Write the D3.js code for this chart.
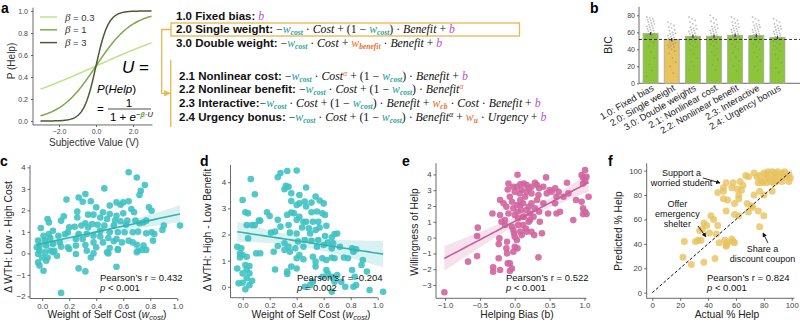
<!DOCTYPE html>
<html>
<head>
<meta charset="utf-8">
<script src="https://cdn.jsdelivr.net/npm/d3@7"></script>
<style>
  body { margin: 0; background: #fff; }
  svg text { font-family: "Liberation Sans", Arial, sans-serif; white-space: pre; }
</style>
</head>
<body>
<svg id="fig" width="800" height="322"></svg>
<script>
// ---------- data ----------
const betas = [0.3, 1, 3];
const betaColors = ["#bde383", "#7fa84e", "#4d5a34"];

const models = ["1.0: Fixed bias", "2.0: Single weight", "3.0: Double weights", "2.1: Nonlinear cost",
  "2.2: Nonlinear benefit", "2.3: Interactive", "2.4: Urgency bonus"];
const bicMean = [58.5, 51.4, 55.3, 55.4, 56.5, 56.1, 53.9];
const bicBest = 51.6;
const bicSubjects = [
  [78, 77, 76, 75, 74, 73, 72, 71, 70, 69, 68, 67, 66, 65, 64, 63, 62, 61, 60, 59, 58, 57, 56, 55, 54, 52, 50, 48, 44, 37, 30, 22, 15, 8],
  [72, 70, 68, 66, 65, 63, 62, 60, 59, 58, 57, 56, 55, 54, 53, 52, 51, 50, 49, 48, 47, 46, 45, 44, 43, 42, 40, 38, 35, 30, 25, 20, 12],
  [78, 76, 74, 72, 70, 68, 66, 65, 64, 63, 62, 61, 60, 59, 58, 57, 56, 55, 54, 53, 52, 51, 50, 49, 48, 46, 44, 42, 39, 35, 30, 25, 20, 16],
  [80, 77, 75, 73, 71, 69, 67, 66, 65, 64, 63, 62, 61, 60, 59, 58, 57, 56, 55, 54, 53, 52, 51, 50, 48, 46, 44, 41, 37, 33, 28, 22, 16],
  [78, 76, 74, 72, 71, 70, 68, 67, 66, 65, 64, 63, 62, 61, 60, 59, 58, 57, 56, 55, 54, 53, 52, 50, 48, 46, 43, 40, 36, 31, 26, 20, 15],
  [78, 76, 74, 72, 70, 69, 68, 67, 66, 65, 64, 63, 62, 61, 60, 59, 58, 57, 56, 55, 54, 53, 52, 50, 48, 46, 43, 40, 36, 31, 26, 20, 15],
  [76, 74, 72, 70, 68, 67, 66, 65, 64, 63, 62, 61, 60, 59, 58, 57, 56, 55, 54, 53, 52, 51, 50, 48, 46, 44, 41, 38, 34, 29, 24, 18, 13]
];

const cW = [0.64,0.70,0.76,0.46,0.73,0.72,0.32,0.27,0.18,0.30,0.36,0.55,0.60,0.64,0.58,0.50,0.40,0.79,0.81,0.66,0.68,0.26,0.45,0.34,0.38,0.50,0.55,0.60,0.16,0.26,0.43,0.48,0.54,0.58,0.63,0.69,0.75,0.77,0.72,0.62,0.14,0.04,0.05,0.32,0.37,0.41,0.46,0.53,0.34,0.29,0.24,0.19,0.20,-0.01,0.08,0.43,0.50,0.56,0.61,0.67,0.71,0.81,0.89,0.90,1.02,0.77,0.83,0.27,0.33,0.38,0.43,0.49,0.55,0.25,0.30,0.17,0.12,0.05,0.01,-0.03,0.02,0.06,-0.02,0.03,-0.04,0.08,0.13,0.38,0.45,0.53,0.59,0.64,0.67,0.82,0.25,0.32,0.19,0.14,0.75,0.70,0.50,0.20,-0.02,0.02,0.06,-0.03,0.08,0.38,0.48,0.49,0.56,0.56,0.71,0.74,0.77,0.33,0.70,0.04,0.00,0.11,-0.03,0.03,-0.02,0.01,0.27,0.32,0.55,0.14,0.09,0.36,0.40,0.25];
const cDelta = [3.77,3.53,3.18,3.02,2.91,2.71,2.76,2.60,2.50,2.40,2.42,2.37,2.37,2.42,2.26,2.22,2.14,2.14,1.98,2.06,1.91,1.94,1.91,1.80,1.80,1.83,1.75,1.86,1.72,1.67,1.67,1.60,1.52,1.49,1.52,1.52,1.44,1.52,1.40,1.33,1.52,1.60,1.44,1.40,1.36,1.33,1.29,1.29,1.21,1.29,1.24,0.98,1.21,1.18,1.05,1.05,0.98,0.98,0.98,0.98,1.01,0.98,1.09,1.29,1.29,0.93,0.90,0.90,0.90,0.82,0.78,0.71,0.67,0.67,0.67,0.90,0.82,0.90,0.82,0.59,0.59,0.71,0.36,0.36,0.28,0.43,0.51,0.51,0.51,0.56,0.51,0.59,0.51,0.59,0.36,0.39,0.28,0.31,0.36,0.40,0.25,0.20,0.12,0.05,0.12,-0.03,0.05,0.00,0.05,0.00,0.20,0.16,0.12,0.16,0.16,0.12,0.05,-0.19,-0.19,-0.11,-0.42,-0.34,-0.57,-0.81,-0.70,-0.84,-0.62,-1.84,0.12,-0.19,0.28,-0.03];

const dW = [0.33,0.28,0.40,0.26,0.06,0.32,0.34,0.47,0.31,0.09,0.36,0.42,0.54,0.00,0.57,0.36,0.46,0.51,0.42,0.60,0.40,0.47,0.02,0.04,0.18,0.36,0.38,0.33,0.51,0.55,0.59,0.61,0.42,0.20,0.26,0.40,0.45,0.47,0.52,0.56,0.12,0.03,0.07,0.09,0.13,0.28,0.34,0.44,0.49,0.54,0.57,0.62,0.21,0.24,0.35,0.40,0.50,0.68,0.70,0.66,0.61,0.04,0.26,0.31,0.34,0.41,0.39,0.45,0.46,0.51,0.56,0.55,0.60,0.63,0.67,0.66,0.72,0.81,0.84,0.82,-0.04,-0.01,-0.02,0.00,-0.02,0.03,0.10,0.13,0.23,0.31,0.35,0.42,0.40,0.45,0.52,0.54,0.59,0.62,0.66,0.68,0.75,0.78,0.89,0.88,-0.04,0.02,0.05,0.03,0.00,0.05,0.03,0.07,0.00,0.02,0.05,-0.03,0.24,0.33,0.36,0.40,0.54,0.62,0.63,0.59,0.66,0.70,0.68,0.73,0.76,0.81,0.83,0.84,0.82,0.92,0.94,1.04,0.52,0.46,0.66,0.33,0.50];
const dDelta = [4.43,4.35,4.45,4.19,4.12,3.86,3.83,3.80,3.73,3.54,3.58,3.51,3.45,3.32,3.30,3.28,3.26,3.22,3.19,3.19,3.13,3.07,2.85,2.81,2.85,2.84,2.81,2.75,2.85,2.88,2.81,2.75,2.68,2.71,2.56,2.56,2.49,2.49,2.49,2.49,2.53,2.36,2.36,2.36,2.53,2.30,2.36,2.27,2.24,2.17,2.27,2.33,2.07,2.11,2.07,2.04,2.04,2.02,2.04,1.89,1.94,1.85,1.56,1.66,1.53,1.73,1.47,1.53,1.79,1.76,1.79,1.53,1.60,1.69,1.66,1.47,1.53,1.47,1.43,1.34,1.53,1.47,1.28,1.21,1.12,1.15,1.28,1.28,1.34,1.41,1.34,1.21,1.09,1.05,1.15,0.96,1.09,1.02,1.12,1.09,1.12,1.09,1.02,0.83,0.70,0.83,0.79,0.66,0.51,0.51,0.32,0.23,0.15,-0.10,0.06,0.13,0.66,0.58,0.77,0.70,0.77,0.64,0.51,0.38,0.38,0.45,0.19,0.19,0.00,0.64,0.38,0.06,0.00,0.58,-0.13,-0.19,0.19,0.00,-0.19,0.49,0.06];

const eBias = [-1.01,-0.67,-0.53,-0.54,-0.54,-0.31,-0.31,-0.32,-0.22,-0.23,-0.23,-0.21,-0.14,-0.11,-0.12,-0.11,-0.10,-0.07,-0.07,-0.04,-0.02,0.00,0.04,0.03,0.00,-0.01,0.08,-0.09,-0.10,0.04,0.08,0.10,0.13,0.17,0.20,0.24,0.29,0.32,0.35,0.41,0.45,0.24,-0.07,-0.04,-0.12,-0.09,-0.14,-0.02,0.03,0.00,0.05,0.08,0.09,0.12,0.13,0.12,0.16,0.17,0.20,0.15,0.20,0.22,0.24,0.27,0.29,0.32,0.34,0.35,0.36,0.39,0.28,0.34,0.41,0.46,0.48,0.50,0.53,0.58,0.60,0.60,0.65,0.75,0.70,0.77,0.84,0.88,0.96,0.98,1.01,1.03,1.01,0.98,0.96,0.98,1.01,1.03,1.06,0.98,-0.21,-0.16,-0.04,0.10,-0.02,0.05,0.00,0.03,-0.02,0.24,0.58,0.63,0.22,-0.21,-0.19,0.07,0.17,0.12,0.04,0.17,0.08];
const eWill = [-3.46,-1.52,0.63,0.10,-1.17,-1.88,-2.16,1.53,-0.05,-0.41,-1.31,-2.05,0.80,-0.26,-0.68,-1.00,-1.63,-2.11,-1.63,-1.95,-0.89,-0.58,-0.68,-0.15,0.06,0.27,0.38,3.43,3.05,3.98,3.37,3.01,3.43,3.33,3.12,2.80,3.47,3.33,3.12,3.22,3.81,3.22,2.59,2.27,1.95,1.53,1.11,1.85,2.06,1.43,1.22,2.38,1.74,2.17,1.32,0.80,0.58,0.37,1.00,2.59,1.95,1.53,2.17,1.32,1.85,2.38,2.69,1.64,1.00,0.27,0.16,-1.25,2.17,2.80,1.53,3.01,2.90,2.17,1.53,2.59,1.64,3.47,2.59,2.80,1.11,2.38,3.96,3.81,4.27,3.85,3.58,3.43,2.27,1.85,1.64,1.49,2.59,1.49,2.38,2.17,0.69,0.16,0.48,0.80,2.90,3.22,3.22,0.37,3.12,2.90,1.11,1.43,1.00,2.80,2.90,1.32,1.64,1.74,2.06];

const fActual = [73,67,69,75,77,80,82,83,86,88,90,93,95,98,99,96,93,91,88,86,83,81,78,76,79,82,85,87,89,93,98,58,53,63,65,64,61,57,51,47,51,51,54,59,62,62,68,71,73,77,80,86,72,76,69,53,59,62,80,42,44,37,39,47,36,34,46,41,35,33,31,23,52,54,57,58,59,53,48,77,22,28,37,45,53];
const fPred = [98,96,95,95,96,98,97,99,99,98,99,98,99,97,94,95,94,95,94,95,94,93,91,90,90,90,91,90,91,91,91,90,90,91,88,84,85,86,86,82,83,77,76,73,80,77,73,71,80,83,80,83,70,67,66,67,64,63,63,63,60,57,55,55,52,51,48,49,43,43,42,42,43,41,44,42,41,39,41,54,29,23,25,28,38];

const stats = {
  c: ["Pearson\u2019s r = 0.432", "p < 0.001"],
  d: ["Pearson\u2019s r = -0.204", "p = 0.002"],
  e: ["Pearson\u2019s r = 0.522", "p < 0.001"],
  f: ["Pearson\u2019s r = 0.824", "p < 0.001"]
};

// ---------- helpers ----------
const svg = d3.select("#fig");
const SANS = "'Liberation Sans', Arial, sans-serif";
const SERIF = "'Liberation Serif', 'Times New Roman', serif";
const TEAL = "#1e9e9e", ORANGE = "#f26b2a", MAG = "#c04fd0";
const AXC = "#444";

function styleAxis(g, fs) {
  g.select(".domain").remove();
  g.selectAll(".tick line").attr("stroke", AXC).attr("stroke-width", 0.8);
  g.selectAll(".tick text").attr("fill", AXC).attr("font-size", fs).attr("font-family", SANS);
}
function panelLabel(t, x, y) {
  svg.append("text").attr("x", x).attr("y", y).text(t)
    .attr("font-weight", "bold").attr("font-size", 14).attr("fill", "#000");
}

// ---------- panel a ----------
panelLabel("a", 1, 13);
const ax = d3.scaleLinear().domain([-3, 3]).range([40.5, 151.5]);
const ay = d3.scaleLinear().domain([0, 1]).range([121, 11]);
const ga = svg.append("g");
ga.append("line").attr("x1", 33).attr("x2", 33).attr("y1", ay(-0.036)).attr("y2", ay(1.03)).attr("stroke", AXC).attr("stroke-width", 0.8);
ga.append("line").attr("x1", 33).attr("x2", ax(3.05)).attr("y1", ay(-0.036)).attr("y2", ay(-0.036)).attr("stroke", AXC).attr("stroke-width", 0.8);
ga.append("g").attr("transform", "translate(33,0)")
  .call(d3.axisLeft(ay).tickValues([0, 0.2, 0.4, 0.6, 0.8, 1]).tickFormat(d3.format(".1f")).tickSize(2).tickPadding(3))
  .call(g => styleAxis(g, 7));
ga.append("g").attr("transform", `translate(0,${ay(-0.036)})`)
  .call(d3.axisBottom(ax).tickValues([-2, 0, 2]).tickSize(2).tickPadding(2))
  .call(g => styleAxis(g, 7));
const vGrid = d3.range(-3, 3.0001, 0.05);
betas.forEach((b, i) => {
  ga.append("path")
    .datum(vGrid.map(v => [v, 1 / (1 + Math.exp(-b * v))]))
    .attr("fill", "none").attr("stroke", betaColors[i]).attr("stroke-width", 1.5)
    .attr("d", d3.line().x(d => ax(d[0])).y(d => ay(d[1])));
  const ly = 17 + i * 12.8;
  ga.append("line").attr("x1", 40).attr("x2", 57).attr("y1", ly).attr("y2", ly)
    .attr("stroke", betaColors[i]).attr("stroke-width", 1.5);
  const t = ga.append("text").attr("x", 65).attr("y", ly + 3.5).attr("font-size", 9.5).attr("fill", "#333");
  t.append("tspan").text("\u03b2").attr("font-style", "italic").attr("font-family", SERIF).attr("font-size", 11);
  t.append("tspan").text(" = " + b);
});
ga.append("text").attr("transform", "translate(15,61) rotate(-90)").attr("text-anchor", "middle")
  .attr("font-size", 10).attr("fill", "#333").text("P (Help)");
ga.append("text").attr("x", 94).attr("y", 146).attr("text-anchor", "middle")
  .attr("font-size", 10).attr("fill", "#333").text("Subjective Value (V)");

// logistic formula
const fx = ga.append("g").attr("font-family", SERIF);
fx.append("text").attr("x", 97).attr("y", 93).attr("font-size", 11.5).attr("font-family", SERIF)
  .html('<tspan font-style="italic">P</tspan>(<tspan font-style="italic">Help</tspan>)');
fx.append("text").attr("x", 97).attr("y", 113).attr("font-size", 11.5).attr("font-family", SERIF).text("=");
fx.append("text").attr("x", 129).attr("y", 106.5).attr("font-size", 11.5).attr("font-family", SERIF).attr("text-anchor", "middle").text("1");
fx.append("line").attr("x1", 108).attr("x2", 151).attr("y1", 109).attr("y2", 109).attr("stroke", "#222").attr("stroke-width", 0.8);
fx.append("text").attr("x", 110).attr("y", 121).attr("font-size", 11.5).attr("font-family", SERIF)
  .html('1 + <tspan font-style="italic">e</tspan><tspan dy="-4" font-size="7.5">\u2212</tspan><tspan font-size="7.5" font-style="italic" font-weight="bold" fill="#5fa83a">\u03b2</tspan><tspan font-size="7.5">\u00b7</tspan><tspan font-size="7.5" font-style="italic">U</tspan>');

svg.append("text").attr("x", 122).attr("y", 73).attr("font-size", 17).attr("font-family", SERIF)
  .html('<tspan font-style="italic">U</tspan> =');

// model equations
function V(t, c, sub) { return { t, c, sub }; }
function P(t, c, sup, supC) { return { t, c, sup, supC }; }
const wc = V("w", TEAL, "cost");
const eqLines = [
  { y: 19.5, x: 176, lab: "1.0 Fixed bias", toks: [P(": ", "#000"), V("b", MAG)] },
  { y: 33, x: 176, lab: "2.0 Single weight", toks: [P(": \u2212"), wc, P(" \u00b7 Cost + (1 \u2212 "), wc, P(") \u00b7 Benefit + "), V("b", MAG)] },
  { y: 47, x: 176, lab: "3.0 Double weight", toks: [P(": \u2212"), wc, P(" \u00b7 Cost + "), V("w", ORANGE, "benefit"), P(" \u00b7 Benefit + "), V("b", MAG)] },
  { y: 79.5, x: 179, lab: "2.1 Nonlinear cost", toks: [P(": \u2212"), wc, P(" \u00b7 Cost", null, "\u03b1", ORANGE), P(" + (1 \u2212 "), wc, P(") \u00b7 Benefit + "), V("b", MAG)] },
  { y: 93, x: 179, lab: "2.2 Nonlinear benefit", toks: [P(": \u2212"), wc, P(" \u00b7 Cost + (1 \u2212 "), wc, P(") \u00b7 Benefit", null, "\u03b1", ORANGE)] },
  { y: 107, x: 179, lab: "2.3 Interactive", toks: [P(":\u2212"), wc, P(" \u00b7 Cost + (1 \u2212 "), wc, P(") \u00b7 Benefit + "), V("w", ORANGE, "cb"), P(" \u00b7 Cost \u00b7 Benefit + "), V("b", MAG)] },
  { y: 121, x: 179, lab: "2.4 Urgency bonus", toks: [P(": \u2212"), wc, P(" \u00b7 Cost + (1 \u2212 "), wc, P(") \u00b7 Benefit", null, "\u03b1", "#111"), P(" + "), V("w", ORANGE, "u"), P(" \u00b7 Urgency + "), V("b", MAG)] }
];
const LAB = 11.5, EQ = 11.8;
eqLines.forEach(L => {
  const t = svg.append("text").attr("x", L.x).attr("y", L.y).attr("fill", "#111");
  const lab = t.append("tspan").text(L.lab).attr("font-weight", "bold").attr("font-size", LAB).attr("font-family", SANS);
  let shift = 0;
  L.toks.forEach((tk, k) => {
    let parts = tk.t.match(/[A-Za-z]+|[^A-Za-z]+/g) || [];
    if (k === 0 && parts[0] && parts[0].startsWith(":")) {
      lab.text(L.lab + ":");            // colon belongs to the bold label
      parts[0] = parts[0].slice(1);
      parts = parts.filter(p => p.length);
    }
    parts.forEach(p => {
      const ts = t.append("tspan").text(p).attr("font-family", SERIF).attr("font-size", EQ).attr("fill", tk.c || "#111");
      if (/[A-Za-z]/.test(p)) ts.attr("font-style", "italic");
      if (shift) { ts.attr("dy", -shift); shift = 0; }
    });
    if (tk.sub) {
      t.append("tspan").text(tk.sub).attr("font-family", SERIF).attr("font-style", "italic").attr("font-weight", "bold")
        .attr("font-size", EQ * 0.64).attr("fill", tk.c).attr("dy", 2.2);
      shift = 2.2;
    }
    if (tk.sup) {
      t.append("tspan").text(tk.sup).attr("font-family", SERIF).attr("font-style", "italic")
        .attr("font-size", EQ * 0.68).attr("fill", tk.supC).attr("dy", -4);
      shift = -4;
    }
  });
});

// highlight box and connectors
const YEL = "#e8b64a";
svg.append("rect").attr("x", 171).attr("y", 23).attr("width", 348.5).attr("height", 13)
  .attr("fill", "none").attr("stroke", YEL).attr("stroke-width", 1.3);
svg.append("defs").append("marker").attr("id", "ya").attr("viewBox", "0 0 10 10").attr("refX", 9).attr("refY", 5)
  .attr("markerWidth", 5).attr("markerHeight", 5).attr("orient", "auto")
  .append("path").attr("d", "M0,0L10,5L0,10z").attr("fill", YEL);
svg.append("path").attr("d", "M171,29.5H161.7V93.3H170").attr("fill", "none").attr("stroke", YEL)
  .attr("stroke-width", 1.3).attr("marker-end", "url(#ya)");
svg.append("line").attr("x1", 170.7).attr("x2", 170.7).attr("y1", 60).attr("y2", 127)
  .attr("stroke", YEL).attr("stroke-width", 1.3);

// ---------- panel b ----------
panelLabel("b", 590, 13);
const bx = d3.scaleBand().domain(models).range([640, 788]).paddingInner(0.29).paddingOuter(0.145);
const by = d3.scaleLinear().domain([0, 90]).range([83.3, 6.8]);
const gb = svg.append("g");
gb.append("line").attr("x1", 639).attr("x2", 639).attr("y1", by(0)).attr("y2", by(90)).attr("stroke", AXC).attr("stroke-width", 0.8);
gb.append("line").attr("x1", 639).attr("x2", 800).attr("y1", by(0)).attr("y2", by(0)).attr("stroke", AXC).attr("stroke-width", 0.8);
gb.append("g").attr("transform", "translate(639,0)")
  .call(d3.axisLeft(by).tickValues([0, 20, 40, 60, 80]).tickSize(2).tickPadding(2))
  .call(g => styleAxis(g, 7));
gb.selectAll("rect.bar").data(models).join("rect")
  .attr("x", d => bx(d)).attr("width", bx.bandwidth())
  .attr("y", (d, i) => by(bicMean[i])).attr("height", (d, i) => by(0) - by(bicMean[i]))
  .attr("fill", (d, i) => i === 1 ? "#e8c35e" : "#8cc43a")
  .attr("stroke", "#a8a8a8").attr("stroke-width", 0.8);
models.forEach((m, i) => {
  const cx = bx(m) + bx.bandwidth() / 2;
  gb.selectAll(null).data(bicSubjects[i]).join("circle")
    .attr("cx", (d, j) => cx + (((j * 37) % 11) - 5) * 0.75)
    .attr("cy", d => by(d)).attr("r", 0.9)
    .attr("fill", "#8a8a8a").attr("opacity", 0.55);
  gb.append("line").attr("x1", cx).attr("x2", cx).attr("y1", by(bicMean[i] - 1.8)).attr("y2", by(bicMean[i] + 1.8))
    .attr("stroke", "#333").attr("stroke-width", 1.2);
  gb.append("text").attr("transform", `translate(${cx + 4},${by(0) + 6.5}) rotate(-30)`)
    .attr("text-anchor", "end").attr("font-size", 9.3).attr("fill", "#222").text(m);
});
gb.append("line").attr("x1", 639).attr("x2", 800).attr("y1", by(bicBest)).attr("y2", by(bicBest))
  .attr("stroke", "#222").attr("stroke-width", 0.9).attr("stroke-dasharray", "3,2");
gb.append("text").attr("transform", "translate(612,45) rotate(-90)").attr("text-anchor", "middle")
  .attr("font-size", 10.5).attr("fill", "#222").text("BIC");

// ---------- scatter panels ----------
function scatter(o) {
  const g = svg.append("g");
  const x = d3.scaleLinear().domain(o.xDom).range(o.xRange);
  const y = d3.scaleLinear().domain(o.yDom).range(o.yRange);
  g.append("line").attr("x1", o.xRange[0]).attr("x2", o.xRange[0]).attr("y1", o.yRange[0]).attr("y2", o.yRange[1]).attr("stroke", AXC).attr("stroke-width", 0.8);
  g.append("line").attr("x1", o.xRange[0]).attr("x2", o.xRange[1]).attr("y1", o.yRange[0]).attr("y2", o.yRange[0]).attr("stroke", AXC).attr("stroke-width", 0.8);
  g.append("g").attr("transform", `translate(0,${o.yRange[0]})`)
    .call(d3.axisBottom(x).tickValues(o.xTicks).tickFormat(o.xFmt).tickSize(2.5).tickPadding(2))
    .call(s => styleAxis(s, 7.8));
  g.append("g").attr("transform", `translate(${o.xRange[0]},0)`)
    .call(d3.axisLeft(y).tickValues(o.yTicks).tickFormat(o.yFmt).tickSize(2.5).tickPadding(2))
    .call(s => styleAxis(s, 7.8));
  const pts = o.xs.map((v, i) => [v, o.ys[i]]);
  g.selectAll("circle").data(pts).join("circle")
    .attr("cx", d => x(d[0])).attr("cy", d => y(d[1])).attr("r", o.r || 3.3)
    .attr("fill", o.color).attr("fill-opacity", o.op || 0.9);
  if (o.reg) {
    const n = pts.length, mx = d3.mean(o.xs), my = d3.mean(o.ys);
    const sxx = d3.sum(o.xs, v => (v - mx) ** 2);
    const sxy = d3.sum(pts, d => (d[0] - mx) * (d[1] - my));
    const b1 = sxy / sxx, b0 = my - b1 * mx;
    const s = Math.sqrt(d3.sum(pts, d => (d[1] - b0 - b1 * d[0]) ** 2) / (n - 2));
    const [lo, hi] = d3.extent(o.xs);
    const grid = d3.range(0, 41).map(k => lo + (hi - lo) * k / 40);
    const ci = v => 1.97 * s * Math.sqrt(1 / n + (v - mx) ** 2 / sxx);
    g.append("path").datum(grid).attr("fill", o.line).attr("fill-opacity", 0.18)
      .attr("d", d3.area().x(v => x(v)).y0(v => y(b0 + b1 * v - ci(v))).y1(v => y(b0 + b1 * v + ci(v))));
    g.append("path").datum(grid).attr("fill", "none").attr("stroke", o.line).attr("stroke-width", 1.6)
      .attr("d", d3.line().x(v => x(v)).y(v => y(b0 + b1 * v)));
  }
  if (o.diag) {
    g.append("line").attr("x1", x(0)).attr("y1", y(0)).attr("x2", x(100)).attr("y2", y(100))
      .attr("stroke", "#111").attr("stroke-width", 1).attr("stroke-dasharray", "3,2");
  }
  const st = g.append("text").attr("font-size", 9.5).attr("fill", "#111");
  st.append("tspan").attr("x", o.statX).attr("y", 280.5).text(o.stat[0]);
  const p2 = st.append("tspan").attr("x", o.statX).attr("y", 291);
  p2.append("tspan").text("p").attr("font-style", "italic");
  p2.append("tspan").text(o.stat[1].slice(1));
  // titles
  const xt = g.append("text").attr("x", o.xTitleX).attr("y", 318).attr("text-anchor", "middle")
    .attr("font-size", 10.3).attr("fill", "#222");
  o.xTitle.forEach(p => {
    const ts = xt.append("tspan").text(p.t);
    if (p.it) ts.attr("font-style", "italic");
    if (p.sub) ts.attr("font-size", 7.5).attr("dy", 2);
    if (p.up) ts.attr("dy", -2);
  });
  g.append("text").attr("transform", `translate(${o.yTitleX},${o.yTitleY}) rotate(-90)`).attr("text-anchor", "middle")
    .attr("font-size", 10.3).attr("fill", "#222").text(o.yTitle);
  return { x, y, g };
}
const f1 = d3.format(".1f");
const wTitle = [{ t: "Weight of Self Cost (" }, { t: "w", it: true }, { t: "cost", it: true, sub: true }, { t: ")", up: true }];

panelLabel("c", 0, 166);
scatter({ xs: cW, ys: cDelta, xDom: [-0.09, 1.0], xRange: [30, 177.3], yDom: [-2.1, 4.1], yRange: [298.5, 165.2],
  xTicks: [0, 0.2, 0.4, 0.6, 0.8, 1.0], xFmt: f1, yTicks: [-2, -1, 0, 1, 2, 3, 4], yFmt: d3.format("d"),
  color: "#40c2c2", line: "#2fb3b3", reg: true, stat: stats.c, statX: 100,
  xTitle: wTitle, xTitleX: 107, yTitle: "\u0394 WTH: Low - High Cost", yTitleX: 12, yTitleY: 237 });

panelLabel("d", 200, 166);
scatter({ xs: dW, ys: dDelta, xDom: [-0.09, 1.0], xRange: [230.5, 377.7], yDom: [-0.42, 4.66], yRange: [297.7, 165],
  xTicks: [0, 0.2, 0.4, 0.6, 0.8, 1.0], xFmt: f1, yTicks: [0, 1, 2, 3, 4], yFmt: d3.format("d"),
  color: "#40c2c2", line: "#2fb3b3", reg: true, stat: stats.d, statX: 297,
  xTitle: wTitle, xTitleX: 311, yTitle: "\u0394 WTH: High - Low Benefit", yTitleX: 211, yTitleY: 230 });

panelLabel("e", 402, 166);
scatter({ xs: eBias, ys: eWill, xDom: [-1.13, 1.03], xRange: [436, 586.5], yDom: [-3.84, 4.71], yRange: [298.3, 163.2],
  xTicks: [-1, -0.5, 0, 0.5, 1], xFmt: f1, yTicks: [-3, -2, -1, 0, 1, 2, 3, 4], yFmt: d3.format("d"),
  color: "#d0659e", line: "#c85e98", reg: true, stat: stats.e, statX: 506,
  xTitle: [{ t: "Helping Bias (b)" }], xTitleX: 517, yTitle: "Willingness of Help", yTitleX: 418, yTitleY: 232 });

panelLabel("f", 608, 166);
const pf = scatter({ xs: fActual, ys: fPred, xDom: [-4, 102], xRange: [646.7, 794.5], yDom: [-4.6, 106], yRange: [298.3, 163.3],
  xTicks: [0, 20, 40, 60, 80, 100], xFmt: d3.format("d"), yTicks: [0, 20, 40, 60, 80, 100], yFmt: d3.format("d"),
  color: "#e7c25e", op: 0.8, r: 3.5, diag: true, stat: stats.f, statX: 707,
  xTitle: [{ t: "Actual % Help" }], xTitleX: 727, yTitle: "Predicted % Help", yTitleX: 622, yTitleY: 231 });

// annotations on panel f (data units)
const notes = [
  { lines: ["Support a", "worried student"], at: [21, 95.5], from: [36.3, 94], to: [48.6, 89.9] },
  { lines: ["Offer", "emergency", "shelter"], at: [18, 70.3], from: [32.8, 54.7], to: [38.5, 45.7] },
  { lines: ["Share a", "discount coupon"], at: [79, 33.2], from: [83, 40.7], to: [79.4, 49] }
];
const defs = svg.select("defs");
defs.append("marker").attr("id", "ka").attr("viewBox", "0 0 10 10").attr("refX", 9).attr("refY", 5)
  .attr("markerWidth", 5).attr("markerHeight", 5).attr("orient", "auto")
  .append("path").attr("d", "M0,0L10,5L0,10z").attr("fill", "#111");
notes.forEach(nt => {
  const t = pf.g.append("text").attr("text-anchor", "middle").attr("font-size", 9).attr("fill", "#111");
  nt.lines.forEach((l, i) => t.append("tspan").attr("x", pf.x(nt.at[0])).attr("y", pf.y(nt.at[1]) + i * 10).text(l));
  pf.g.append("line").attr("x1", pf.x(nt.from[0])).attr("y1", pf.y(nt.from[1]))
    .attr("x2", pf.x(nt.to[0])).attr("y2", pf.y(nt.to[1]))
    .attr("stroke", "#111").attr("stroke-width", 0.9).attr("marker-end", "url(#ka)");
});
</script>
</body>
</html>
